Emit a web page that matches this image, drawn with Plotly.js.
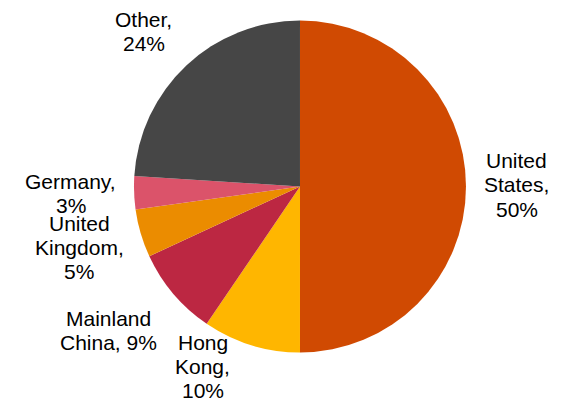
<!DOCTYPE html>
<html>
<head>
<meta charset="utf-8">
<script src="https://cdn.plot.ly/plotly-3.0.1.min.js"></script>
<style>html,body{margin:0;padding:0;background:#fff;}#chart{width:575px;height:402px;}</style>
</head>
<body>
<div id="chart"></div>
<script>
// ---- data ----
var labels = ["United States", "Hong Kong", "Mainland China", "United Kingdom", "Germany", "Other"];
var values = [50.0, 9.5, 8.6, 4.7, 3.2, 24.0];
var pctLabels = ["50%", "10%", "9%", "5%", "3%", "24%"];
// label text lines as printed in the chart
var labelLines = [
  ["United", "States,", "50%"],
  ["Hong", "Kong,", "10%"],
  ["Mainland", "China, 9%"],
  ["United", "Kingdom,", "5%"],
  ["Germany,", "3%"],
  ["Other,", "24%"]
];
var colors = ["#D04A02", "#FFB600", "#BC2742", "#EB8C00", "#DB536A", "#464646"];

// ---- label placement (pixels: centre x, first-line centre y) ----
var labelPos = [
  [516.5, 160.5],
  [202.5, 342.0],
  [108.5, 318.0],
  [79.0, 223.0],
  [70.5, 181.5],
  [143.5, 19.5]
];
var lineGap = 24.3;
var W = 575, H = 402;

var annotations = [];
labelLines.forEach(function (lines, i) {
  lines.forEach(function (line, j) {
    annotations.push({
      text: line,
      xref: "paper", yref: "paper",
      x: labelPos[i][0] / W,
      y: 1 - (labelPos[i][1] + j * lineGap) / H,
      xanchor: "center", yanchor: "middle",
      showarrow: false,
      font: {family: "Liberation Sans, Arial, sans-serif", size: 21, color: "#000"}
    });
  });
});

var trace = {
  type: "pie",
  labels: labels,
  values: values,
  text: pctLabels,
  textinfo: "none",
  sort: false,
  direction: "clockwise",
  rotation: 0,
  marker: {colors: colors, line: {width: 0}},
  automargin: false,
  showlegend: false,
  hoverinfo: "label+text",
  domain: {x: [0.2330, 0.8104], y: [0.1231, 0.9490]}
};

var layout = {
  width: W,
  height: H,
  margin: {l: 0, r: 0, t: 0, b: 0},
  paper_bgcolor: "#fff",
  showlegend: false,
  annotations: annotations
};

Plotly.newPlot("chart", [trace], layout, {displayModeBar: false, staticPlot: true});
</script>
</body>
</html>
